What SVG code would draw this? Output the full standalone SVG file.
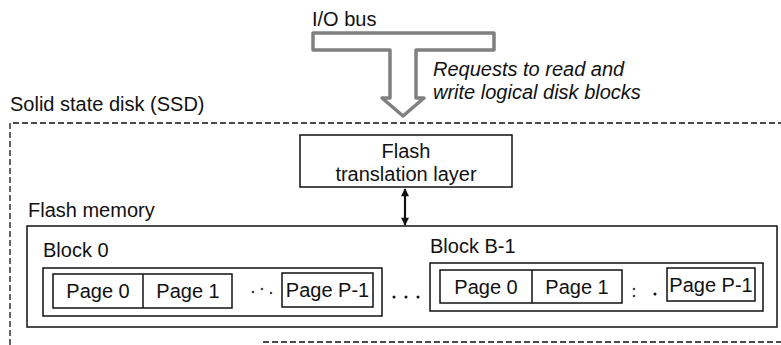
<svg xmlns="http://www.w3.org/2000/svg" width="781" height="345" viewBox="0 0 781 345">
<style>
text{font-family:"Liberation Sans",Arial,sans-serif;font-size:20px;fill:#111}
.it{font-style:italic}
.box{fill:#fff;stroke:#111;stroke-width:1.5}
.dash{fill:none;stroke:#111;stroke-width:1.3;stroke-dasharray:6 3}
.c{text-anchor:middle}
</style>
<defs>
<marker id="ah" viewBox="0 0 10 10" refX="9" refY="5" markerWidth="9" markerHeight="8" orient="auto-start-reverse" markerUnits="userSpaceOnUse">
<path d="M0,0 L10,5 L0,10 z" fill="#111"/>
</marker>
</defs>
<rect width="781" height="345" fill="#fff"/>

<g id="io-bus">
<text x="312" y="26">I/O bus</text>
<path d="M313,33 L494,33 L494,50 L416,50 L416,98 L424,98 L403,116 L382,98 L390,98 L390,50 L313,50 Z" fill="#fff" stroke="#808080" stroke-width="3.5" stroke-linejoin="round"/>
<text class="it" x="433" y="76">Requests to read and</text>
<text class="it" x="433" y="99">write logical disk blocks</text>
</g>

<g id="ssd">
<text x="10" y="111">Solid state disk (SSD)</text>
<path class="dash" d="M10,345 L10,123 L781,123 M263,342 L781,342"/>
</g>

<g id="ftl">
<rect class="box" x="300" y="135" width="212" height="52"/>
<text class="c" x="406" y="158">Flash</text>
<text class="c" x="406" y="181">translation layer</text>
</g>

<g id="connectors">
<line x1="405" y1="189" x2="405" y2="225" stroke="#111" stroke-width="2.2" marker-start="url(#ah)" marker-end="url(#ah)"/>
</g>

<g id="flash-memory">
<text x="28" y="217">Flash memory</text>
<rect class="box" x="27" y="226" width="750" height="101"/>
</g>

<g id="block0">
<text x="43" y="257">Block 0</text>
<rect class="box" x="43" y="268" width="339" height="48"/>
<rect class="box" x="53" y="274" width="179" height="34"/>
<line x1="143" y1="274" x2="143" y2="308" stroke="#111" stroke-width="1.5"/>
<text class="c" x="98" y="298">Page 0</text>
<text class="c" x="188" y="298">Page 1</text>
<rect class="box" x="282" y="273" width="91" height="34"/>
<text class="c" x="327.5" y="297">Page P-1</text>
<circle cx="253" cy="292" r="1.3" fill="#444"/>
<circle cx="262" cy="289" r="1.3" fill="#444"/>
<circle cx="271" cy="293" r="1.3" fill="#444"/>
</g>

<g id="ellipsis">
<circle cx="394" cy="297" r="1.5" fill="#111"/>
<circle cx="406" cy="297" r="1.5" fill="#111"/>
<circle cx="418" cy="297" r="1.5" fill="#111"/>
</g>

<g id="blockB1">
<text x="430" y="253">Block B-1</text>
<rect class="box" x="430" y="263" width="333" height="48"/>
<rect class="box" x="440" y="270" width="182" height="33"/>
<line x1="532" y1="270" x2="532" y2="303" stroke="#111" stroke-width="1.5"/>
<text class="c" x="486" y="294">Page 0</text>
<text class="c" x="577" y="294">Page 1</text>
<rect class="box" x="667" y="268" width="88" height="33"/>
<text class="c" x="711" y="292">Page P-1</text>
<circle cx="634" cy="289" r="1.3" fill="#444"/>
<circle cx="634" cy="296" r="1.3" fill="#444"/>
<circle cx="655" cy="294" r="1.5" fill="#111"/>
</g>
</svg>
